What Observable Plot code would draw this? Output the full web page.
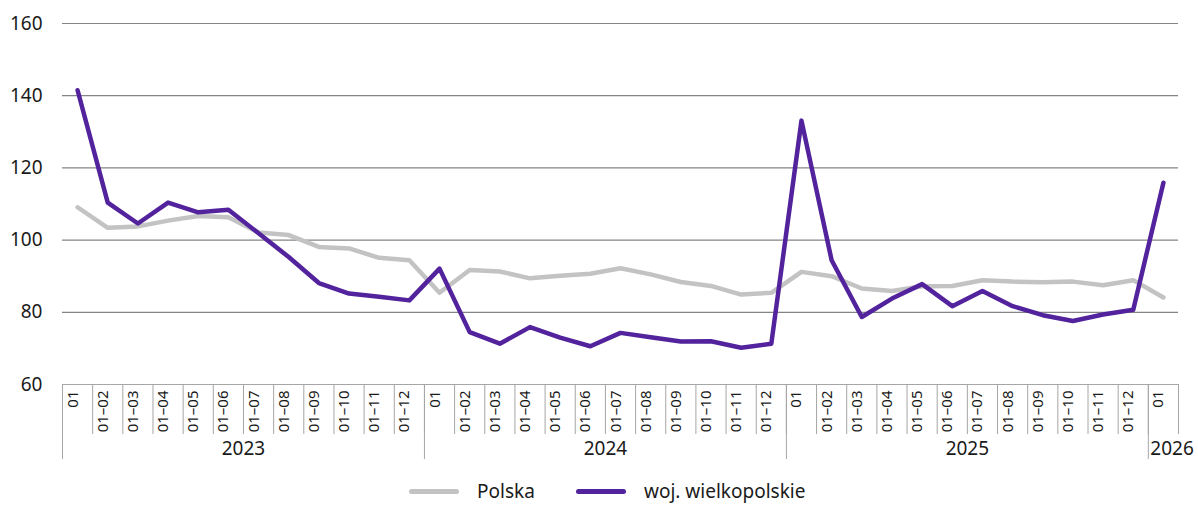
<!DOCTYPE html>
<html>
<head>
<meta charset="utf-8">
<script src="https://cdn.jsdelivr.net/npm/d3@7"></script>
<script src="https://cdn.jsdelivr.net/npm/@observablehq/plot@0.6"></script>
<style>
  body { margin: 0; background: #fff; font-family: "Noto Sans", sans-serif; color: #1a1a1a; }
  #chart svg { display: block; }
  #legend { position: relative; height: 38px; width: 1198px; font-size: 19px; }
  .lg { position: absolute; top: 6px; display: flex; align-items: center; height: 30px; line-height: 30px; }
  .lg .sw { width: 50px; height: 5px; border-radius: 3px; margin-right: 18px; }
</style>
</head>
<body>
<div id="chart"></div>
<div id="legend"></div>
<script>
// ---- data ----
const years = ["2023", "2024", "2025", "2026"];
const monthsPerYear = [12, 12, 12, 1];
const periodLabels = ["01", "01–02", "01–03", "01–04", "01–05", "01–06", "01–07", "01–08", "01–09", "01–10", "01–11", "01–12"];
const seriesNames = ["Polska", "woj. wielkopolskie"];
const polska = [
  109.1, 103.4, 103.8, 105.4, 106.7, 106.3, 102.1, 101.4, 98.1, 97.7, 95.1, 94.4,
  85.4, 91.7, 91.3, 89.4, 90.1, 90.7, 92.2, 90.5, 88.4, 87.3, 84.9, 85.4,
  91.2, 90.0, 86.6, 85.9, 87.2, 87.3, 88.9, 88.5, 88.3, 88.5, 87.5, 88.9,
  84.1
];
const wielkopolskie = [
  141.5, 110.4, 104.6, 110.4, 107.7, 108.4, 101.9, 95.3, 88.1, 85.2, 84.3, 83.3,
  92.1, 74.5, 71.3, 75.9, 73.0, 70.6, 74.3, 73.1, 71.9, 72.0, 70.2, 71.3,
  133.1, 94.4, 78.7, 83.8, 87.8, 81.7, 85.9, 81.7, 79.2, 77.6, 79.4, 80.7,
  115.9
];
const yTicks = [60, 80, 100, 120, 140, 160];
const colors = ["#c3c3c3", "#52239c"];

// ---- build tables ----
const cats = [];
const yearRanges = [];
years.forEach((yr, k) => {
  const start = cats.length;
  for (let m = 0; m < monthsPerYear[k]; m++) cats.push({i: cats.length, year: yr, label: periodLabels[m]});
  yearRanges.push({year: yr, start: start - 0.5, end: cats.length - 0.5, mid: (start + cats.length - 1) / 2, n: monthsPerYear[k]});
});
const n = cats.length;
const rows = [];
[polska, wielkopolskie].forEach((arr, s) => arr.forEach((v, i) => rows.push({i, v, series: seriesNames[s]})));
const monthBounds = d3.range(n + 1).map(k => k - 0.5);
const yearBounds = yearRanges.map(d => d.start);

const chart = Plot.plot({
  width: 1198,
  height: 470,
  marginLeft: 62,
  marginRight: 20,
  marginTop: 23,
  marginBottom: 86,
  style: {fontFamily: "'Noto Sans', sans-serif", fontSize: "19px", color: "#1a1a1a", background: "#fff"},
  x: {type: "linear", domain: [-0.5, n - 0.5], axis: null},
  y: {domain: [60, 160], ticks: yTicks, label: null},
  color: {domain: seriesNames, range: colors},
  marks: [
    Plot.ruleY(yTicks.filter(t => t > 60), {stroke: "#858585", strokeWidth: 1.2}),
    Plot.axisY({ticks: yTicks, tickSize: 0, tickPadding: 20, fontSize: 19, label: null}),
    Plot.ruleY([60], {stroke: "#a6a6a6", strokeWidth: 1.2}),
    Plot.ruleX(monthBounds, {stroke: "#a6a6a6", insetTop: 361, insetBottom: -50}),
    Plot.ruleX(yearBounds, {stroke: "#a6a6a6", insetTop: 361, insetBottom: -75}),
    Plot.text(cats, {x: "i", text: "label", frameAnchor: "bottom", dy: 6, rotate: -90, textAnchor: "end", fontSize: 15, fill: "#1a1a1a"}),
    Plot.text(yearRanges.filter(d => d.n > 1), {x: "mid", text: "year", frameAnchor: "bottom", dy: 70, fontSize: 19, fill: "#1a1a1a"}),
    Plot.text(yearRanges.filter(d => d.n <= 1), {x: "start", text: "year", frameAnchor: "bottom", dy: 70, dx: 2, textAnchor: "start", fontSize: 19, fill: "#1a1a1a"}),
    Plot.line(rows, {x: "i", y: "v", z: "series", stroke: "series", strokeWidth: 4.5, strokeLinejoin: "round", strokeLinecap: "round"})
  ]
});
document.getElementById("chart").append(chart);

// ---- legend ----
const legend = document.getElementById("legend");
const legendX = [409, 576];
seriesNames.forEach((name, k) => {
  const item = document.createElement("div");
  item.className = "lg";
  item.style.left = legendX[k] + "px";
  const sw = document.createElement("span");
  sw.className = "sw";
  sw.style.background = colors[k];
  const tx = document.createElement("span");
  tx.textContent = name;
  item.append(sw, tx);
  legend.append(item);
});
</script>
</body>
</html>
